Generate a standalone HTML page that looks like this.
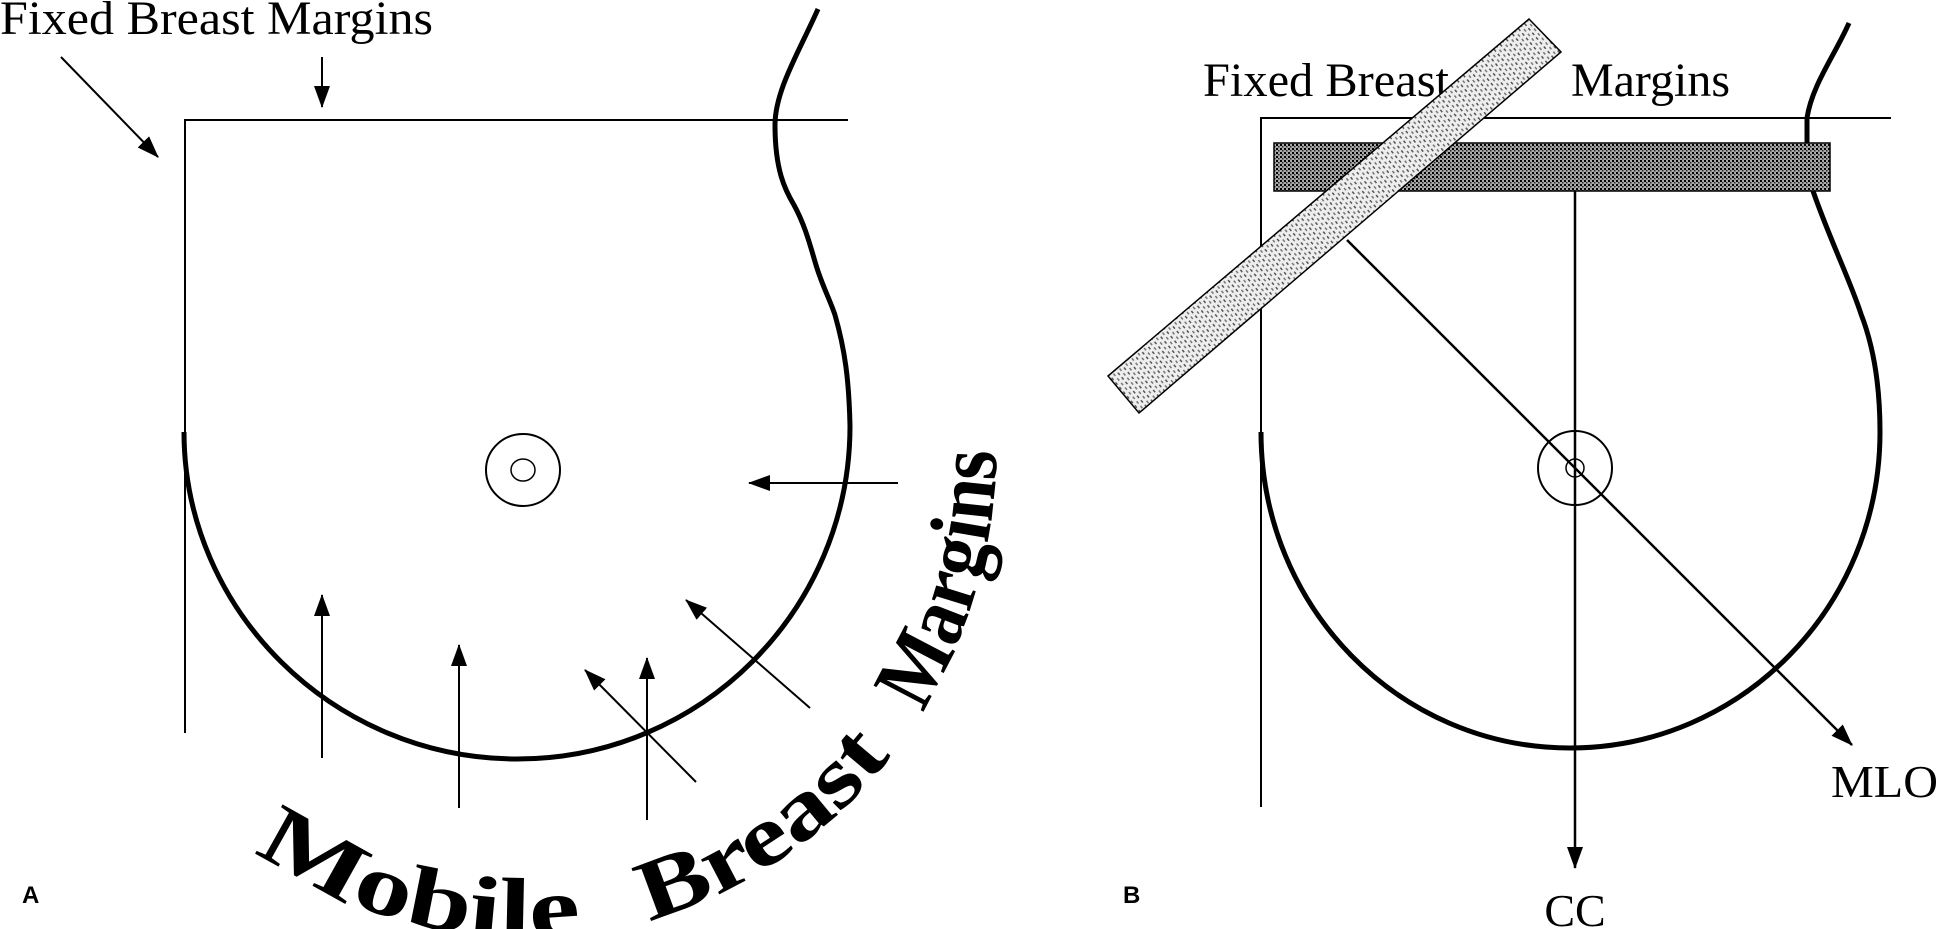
<!DOCTYPE html>
<html><head><meta charset="utf-8"><style>html,body{margin:0;padding:0;background:#fff;}svg{display:block;}</style></head>
<body>
<svg width="1938" height="929" viewBox="0 0 1938 929" xmlns="http://www.w3.org/2000/svg">
<defs>
<marker id="ah" viewBox="0 0 22 16" refX="21" refY="8" markerWidth="22" markerHeight="16" markerUnits="userSpaceOnUse" orient="auto">
<path d="M0,0 L22,8 L0,16 Z" fill="#000"/>
</marker>
<pattern id="dark" width="4" height="4" patternUnits="userSpaceOnUse">
<rect width="4" height="4" fill="#aaa"/>
<rect x="0" y="0" width="2" height="2" fill="#000"/>
<rect x="2" y="2" width="1.5" height="1.5" fill="#222"/>
</pattern>
<pattern id="light" width="8" height="6" patternUnits="userSpaceOnUse" patternTransform="rotate(-40)">
<rect width="8" height="6" fill="#eee"/>
<rect x="0" y="2" width="1.5" height="3" fill="#555"/>
<rect x="4" y="0" width="1.5" height="3" fill="#777"/>
</pattern>
<path id="arcText" d="M 255 850 A 472 490 0 0 0 995 410"/>
</defs>

<g font-family="Liberation Serif, serif" fill="#000">
<text x="0" y="34" font-size="48" textLength="433" lengthAdjust="spacingAndGlyphs">Fixed Breast Margins</text>
<g stroke="#000" stroke-width="2" fill="none">
<line x1="61" y1="57" x2="158" y2="157" marker-end="url(#ah)"/>
<line x1="322" y1="57" x2="322" y2="107" marker-end="url(#ah)"/>
<polyline points="185,733 185,120 848,120"/>
</g>
<path d="M818,9 C800,50 775,90 775,125 C775,170 785,190 794,205 C805,225 810,245 816,265 C822,285 830,300 835,315 C845,350 849,380 850,426 C850,610 701,759 517,759 C333,759 184,610 184,432" fill="none" stroke="#000" stroke-width="5"/>
<ellipse cx="523" cy="470" rx="37" ry="36" fill="none" stroke="#000" stroke-width="2"/>
<ellipse cx="523" cy="470" rx="12" ry="11" fill="none" stroke="#000" stroke-width="1.5"/>
<g stroke="#000" stroke-width="2" fill="none" marker-end="url(#ah)">
<line x1="898" y1="483" x2="749" y2="483"/>
<line x1="810" y1="708" x2="686" y2="600"/>
<line x1="322" y1="758" x2="322" y2="595"/>
<line x1="459" y1="808" x2="459" y2="645"/>
<line x1="696" y1="782" x2="585" y2="670"/>
<line x1="647" y1="820" x2="647" y2="658"/>
</g>
<g font-size="86" font-weight="bold" font-family="Liberation Serif, serif">
<text><textPath href="#arcText" startOffset="0" textLength="345" lengthAdjust="spacingAndGlyphs">Mobile</textPath></text>
<text><textPath href="#arcText" startOffset="414" textLength="298" lengthAdjust="spacingAndGlyphs">Breast</textPath></text>
<text><textPath href="#arcText" startOffset="765" textLength="275" lengthAdjust="spacingAndGlyphs">Margins</textPath></text>
</g>
<text x="22" y="903" font-family="Liberation Sans, sans-serif" font-weight="bold" font-size="24">A</text>

<g stroke="#000" stroke-width="2" fill="none">
<polyline points="1261,807 1261,118 1891,118"/>
</g>
<text x="1203" y="96" font-size="48" textLength="246" lengthAdjust="spacingAndGlyphs">Fixed Breast</text>
<text x="1571" y="96" font-size="48" textLength="159" lengthAdjust="spacingAndGlyphs">Margins</text>
<path d="M1849,23 C1835,55 1812,85 1807,118 L1807,145" fill="none" stroke="#000" stroke-width="5"/>
<path d="M1813,191 C1830,240 1850,280 1861,314 C1875,350 1880,390 1880,432 C1880,607 1741,748 1570,748 C1399,748 1261,607 1261,432" fill="none" stroke="#000" stroke-width="5"/>
<rect x="1274" y="143" width="556" height="48" fill="url(#dark)" stroke="#000" stroke-width="1.5"/>
<polygon points="1529,19 1561,52 1139,413 1108,376" fill="url(#light)" stroke="#000" stroke-width="1.5"/>
<g stroke="#000" stroke-width="2.5" fill="none" marker-end="url(#ah)">
<line x1="1575" y1="191" x2="1575" y2="868"/>
<line x1="1347" y1="240" x2="1852" y2="745"/>
</g>
<circle cx="1575" cy="468" r="37" fill="none" stroke="#000" stroke-width="2"/>
<circle cx="1575" cy="468" r="9" fill="none" stroke="#000" stroke-width="1.5"/>
<text x="1831" y="797" font-size="46" textLength="107" lengthAdjust="spacingAndGlyphs">MLO</text>
<text x="1575" y="926" font-size="46" text-anchor="middle">CC</text>
<text x="1123" y="903" font-family="Liberation Sans, sans-serif" font-weight="bold" font-size="24">B</text>
</g>
</svg>
</body></html>
